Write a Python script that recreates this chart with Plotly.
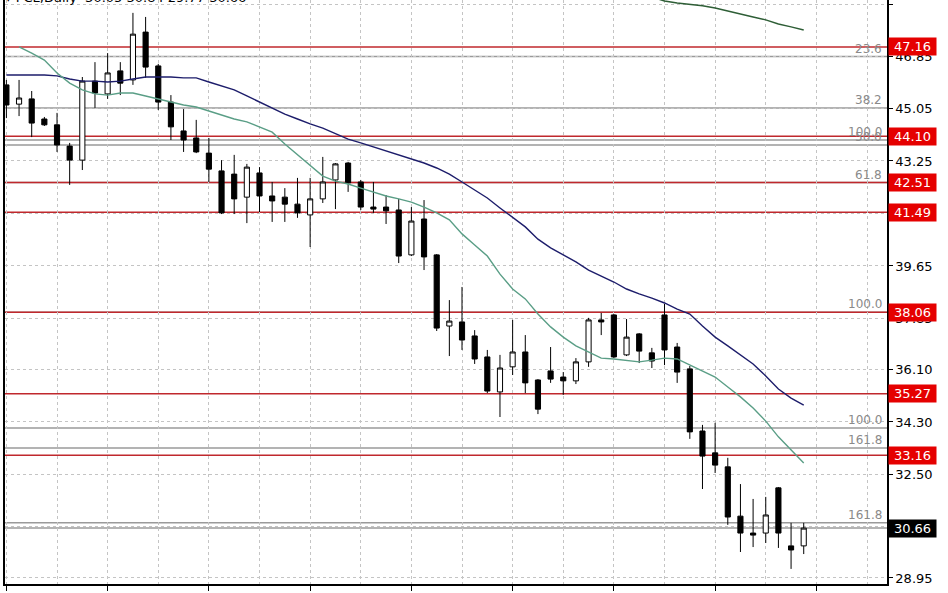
import plotly.graph_objects as go

# ---- data ----
bars = list(range(64))
opens = [45.86, 45.20, 45.38, 44.69, 44.49, 43.76, 43.28, 45.99, 45.55, 46.34,
         46.03, 47.67, 46.51, 45.27, 44.28, 44.04, 43.52, 42.91, 42.80, 42.01,
         42.84, 42.05, 42.01, 41.77, 41.40, 41.95, 42.60, 43.18, 42.53, 41.67,
         41.67, 41.57, 40.03, 41.26, 40.03, 37.59, 37.73, 37.25, 36.53, 35.33,
         36.19, 36.70, 35.74, 36.05, 35.84, 35.71, 36.36, 37.80, 37.97, 36.60,
         37.32, 36.67, 37.97, 36.87, 36.12, 33.99, 33.24, 32.76, 31.07, 30.49,
         30.49, 32.04, 30.05, 30.05]
highs = [46.03, 46.03, 45.65, 44.76, 44.90, 43.87, 46.13, 46.64, 46.95, 46.64,
         48.33, 48.19, 46.58, 45.51, 45.03, 44.66, 44.04, 43.28, 43.46, 43.15,
         43.04, 42.53, 42.32, 42.67, 42.67, 43.39, 43.18, 43.22, 42.60, 42.53,
         42.08, 41.95, 41.67, 41.91, 40.06, 38.48, 38.93, 37.45, 36.77, 36.60,
         37.80, 37.28, 35.77, 36.87, 36.01, 36.49, 37.87, 38.04, 38.00, 37.83,
         37.35, 36.84, 38.35, 37.01, 36.22, 34.20, 34.27, 33.07, 32.17, 31.66,
         31.73, 32.07, 30.84, 30.84]
lows = [44.72, 44.79, 44.07, 44.45, 43.56, 42.43, 42.94, 45.07, 45.38, 45.51,
        45.86, 46.10, 45.00, 43.97, 43.56, 43.52, 42.53, 41.43, 41.43, 41.12,
        41.50, 41.16, 41.16, 41.30, 40.30, 41.81, 41.60, 42.19, 41.57, 41.47,
        41.09, 39.75, 39.99, 39.51, 37.42, 36.56, 36.77, 36.29, 35.29, 34.47,
        35.91, 35.29, 34.57, 35.64, 35.23, 35.60, 36.19, 37.28, 36.49, 36.56,
        36.32, 36.15, 36.25, 35.64, 33.72, 32.00, 32.55, 30.77, 29.84, 30.01,
        30.15, 29.98, 29.26, 29.77]
closes = [45.17, 45.41, 44.55, 44.49, 43.80, 43.28, 45.99, 45.58, 46.27, 45.92,
          47.60, 46.47, 45.27, 44.42, 43.97, 43.56, 42.97, 41.47, 41.95, 43.04,
          42.05, 41.88, 41.77, 41.47, 41.95, 42.53, 43.15, 42.50, 41.67, 41.60,
          41.54, 39.99, 41.19, 39.96, 37.52, 37.76, 37.11, 36.46, 35.36, 36.15,
          36.70, 35.64, 34.74, 35.77, 35.71, 36.36, 37.80, 37.73, 36.53, 37.21,
          36.73, 36.39, 36.77, 36.01, 33.96, 33.13, 32.82, 31.04, 30.49, 30.42,
          31.11, 30.49, 29.91, 30.66]

ma_fast_bars = list(range(1, 64))
ma_fast = [47.16, 46.95, 46.71, 46.27, 45.92, 45.69, 45.55, 45.51, 45.58, 45.58,
           45.48, 45.38, 45.27, 45.17, 45.10, 44.96, 44.83, 44.69, 44.59, 44.42,
           44.24, 43.83, 43.46, 43.08, 42.73, 42.56, 42.46, 42.32, 42.19, 42.05,
           41.95, 41.84, 41.67, 41.47, 41.23, 40.75, 40.37, 39.99, 39.37, 38.86,
           38.52, 38.00, 37.56, 37.21, 36.91, 36.70, 36.49, 36.46, 36.42, 36.36,
           36.42, 36.49, 36.46, 36.25, 36.05, 35.84, 35.50, 35.16, 34.78, 34.33,
           33.79, 33.34, 32.89]

ma_mid_bars = list(range(0, 64))
ma_mid = [46.20, 46.20, 46.20, 46.20, 46.17, 46.06, 45.99, 45.99, 45.96, 45.99,
          46.06, 46.13, 46.13, 46.13, 46.10, 46.10, 45.96, 45.82, 45.69, 45.48,
          45.27, 45.07, 44.86, 44.69, 44.52, 44.38, 44.18, 44.00, 43.87, 43.73,
          43.59, 43.46, 43.32, 43.18, 43.01, 42.80, 42.53, 42.26, 41.98, 41.64,
          41.33, 40.99, 40.57, 40.27, 40.03, 39.79, 39.51, 39.31, 39.10, 38.86,
          38.69, 38.55, 38.38, 38.17, 38.00, 37.59, 37.21, 36.91, 36.60, 36.29,
          35.88, 35.43, 35.12, 34.88]

ma_slow_bars = list(range(51, 64))
ma_slow = [48.87, 48.74, 48.67, 48.63, 48.57, 48.50, 48.39, 48.29, 48.19, 48.09,
           47.95, 47.85, 47.74]

red_levels = [47.16, 44.10, 42.51, 41.49, 38.06, 35.27, 33.16]
fib_levels = [46.83, 45.07, 43.97, 43.80, 42.51, 38.06, 34.09, 33.41, 30.84]
fib_labels = ["23.6", "38.2", "100.0", "50.0", "61.8", "100.0", "100.0", "161.8", "161.8"]
last_price = 30.66

y_ticks = [48.60, 46.85, 45.05, 43.25, 41.45, 39.65, 37.85, 36.10, 34.30, 32.50, 30.70, 28.95]
y_tick_text = ["48.60", "46.85", "45.05", "43.25", "41.45", "39.65", "37.85", "36.10",
               "34.30", "32.50", "30.70", "28.95"]

title_text = "▾ PCL,Daily  30.05 30.84 29.77 30.66"

FONT = "DejaVu Sans"
RED_LINE = "#c0282d"
GRAY_LINE = "#9a9a9a"

fig = go.Figure()

# horizontal level lines
shapes = []
for lv in fib_levels + [last_price]:
    shapes.append(dict(type="line", xref="paper", x0=0, x1=1, yref="y", y0=lv, y1=lv,
                       line=dict(color=GRAY_LINE, width=1.5), layer="below"))
for lv in red_levels:
    shapes.append(dict(type="line", xref="paper", x0=0, x1=1, yref="y", y0=lv, y1=lv,
                       line=dict(color=RED_LINE, width=1.5), layer="below"))

fig.add_trace(go.Scatter(x=ma_slow_bars, y=ma_slow, mode="lines",
                         line=dict(color="#2e5e36", width=1.5), hoverinfo="skip"))
fig.add_trace(go.Scatter(x=ma_mid_bars, y=ma_mid, mode="lines",
                         line=dict(color="#1d1d6b", width=1.4), hoverinfo="skip"))
fig.add_trace(go.Scatter(x=ma_fast_bars, y=ma_fast, mode="lines",
                         line=dict(color="#5a9e86", width=1.4), hoverinfo="skip"))

fig.add_trace(go.Candlestick(
    x=bars, open=opens, high=highs, low=lows, close=closes,
    increasing=dict(line=dict(color="black", width=1), fillcolor="white"),
    decreasing=dict(line=dict(color="black", width=1), fillcolor="black"),
    whiskerwidth=0,
))

annotations = []
for lv, lab in zip(fib_levels, fib_labels):
    annotations.append(dict(xref="paper", x=0.997, xanchor="right", yref="y", y=lv,
                            yanchor="bottom", text=lab, showarrow=False, yshift=-1,
                            font=dict(family=FONT, size=12, color="#8a8a8a")))
for lv in red_levels:
    annotations.append(dict(xref="paper", x=1, xanchor="left", xshift=1, yref="y", y=lv,
                            yanchor="middle", text=f"{lv:.2f}", showarrow=False,
                            bgcolor="#e50000", width=45, height=15, borderpad=1,
                            font=dict(family=FONT, size=13, color="white")))
annotations.append(dict(xref="paper", x=1, xanchor="left", xshift=1, yref="y", y=last_price,
                        yanchor="middle", text=f"{last_price:.2f}", showarrow=False,
                        bgcolor="black", width=45, height=15, borderpad=1,
                        font=dict(family=FONT, size=13, color="white")))
annotations.append(dict(xref="paper", x=0, xanchor="left", xshift=-2, yref="paper", y=1,
                        yanchor="bottom", yshift=-7, text=title_text, showarrow=False,
                        font=dict(family=FONT, size=13, color="black")))

fig.update_layout(
    width=948, height=593,
    margin=dict(l=5, r=61, t=0, b=9),
    paper_bgcolor="white", plot_bgcolor="white",
    showlegend=False,
    boxgap=0.42,
    shapes=shapes,
    annotations=annotations,
    font=dict(family=FONT, size=13, color="black"),
    xaxis=dict(
        range=[-0.11, 69.58], rangeslider=dict(visible=False),
        tickmode="linear", tick0=0, dtick=8, showticklabels=False,
        ticks="outside", ticklen=5, tickcolor="black",
        showgrid=True, gridcolor="#c4c4c4", griddash="3px,3px", gridwidth=1,
        minor=dict(tick0=0, dtick=4, showgrid=True, gridcolor="#c4c4c4",
                   griddash="3px,3px", gridwidth=1),
        showline=True, linecolor="black", linewidth=1.5, zeroline=False,
    ),
    yaxis=dict(
        side="right", range=[28.743, 48.771],
        tickmode="array", tickvals=y_ticks, ticktext=y_tick_text,
        ticks="outside", ticklen=4, tickcolor="black",
        tickfont=dict(family=FONT, size=13, color="black"),
        showgrid=True, gridcolor="#c4c4c4", griddash="3px,3px", gridwidth=1,
        showline=True, linecolor="black", linewidth=1.5, mirror=True, zeroline=False,
    ),
)

fig.write_html("out.html", config={"displayModeBar": False},
               post_script="document.body.style.margin='0px';document.body.style.overflow='hidden';")
